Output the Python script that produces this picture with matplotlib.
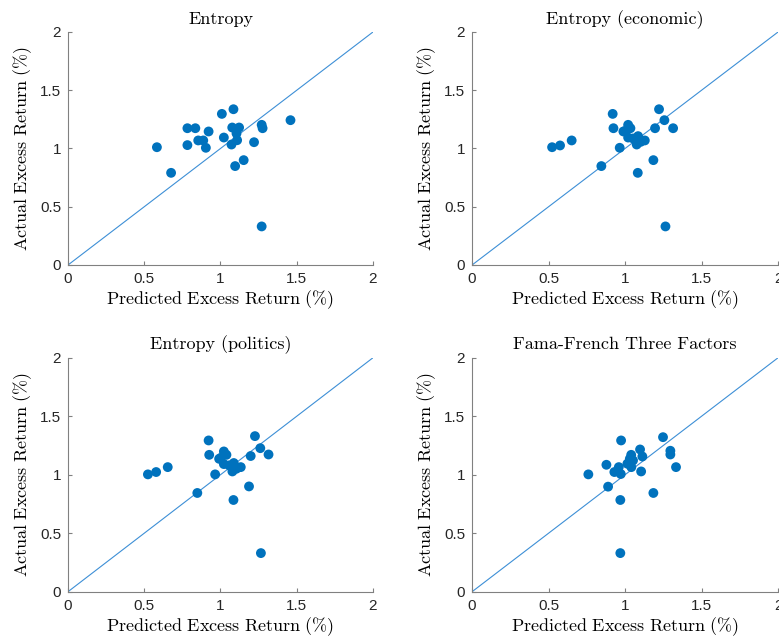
import matplotlib
matplotlib.use('Agg')
import matplotlib.pyplot as plt
import numpy as np

plt.rcParams['mathtext.fontset'] = 'cm'
plt.rcParams['font.family'] = ['Liberation Sans', 'DejaVu Sans']

titles = ['Entropy', 'Entropy (economic)', 'Entropy (politics)', 'Fama-French Three Factors']

# predicted / actual excess returns (%) for each panel
pred_entropy = [0.583, 0.676, 0.783, 0.835, 0.783, 0.854, 0.887, 0.904, 0.922, 1.009, 1.022,
                1.085, 1.077, 1.122, 1.072, 1.109, 1.105, 1.096, 1.152, 1.220, 1.270, 1.276,
                1.459, 1.270]
act_entropy = [1.011, 0.791, 1.174, 1.174, 1.029, 1.069, 1.069, 1.006, 1.146, 1.297, 1.094,
               1.337, 1.180, 1.180, 1.034, 1.071, 1.129, 0.849, 0.900, 1.054, 1.203, 1.174,
               1.243, 0.331]

pred_econ = [0.523, 0.575, 0.651, 0.845, 0.919, 0.924, 0.965, 0.989, 1.020, 1.035, 1.020,
             1.052, 1.085, 1.076, 1.102, 1.129, 1.083, 1.185, 1.196, 1.222, 1.257, 1.314,
             1.264, 1.000]
act_econ = [1.011, 1.026, 1.069, 0.849, 1.297, 1.174, 1.006, 1.146, 1.203, 1.174, 1.094,
            1.086, 1.106, 1.034, 1.057, 1.069, 0.791, 0.900, 1.174, 1.337, 1.243, 1.174,
            0.331, 1.150]

pred_pol = [0.524, 0.578, 0.654, 0.848, 0.922, 0.926, 0.965, 0.991, 1.022, 1.039, 1.022,
            1.057, 1.087, 1.078, 1.104, 1.133, 1.085, 1.187, 1.198, 1.226, 1.261, 1.315,
            1.265, 1.003]
act_pol = [1.003, 1.023, 1.065, 0.844, 1.293, 1.170, 1.003, 1.136, 1.199, 1.170, 1.091,
           1.080, 1.100, 1.028, 1.051, 1.065, 0.784, 0.900, 1.160, 1.330, 1.227, 1.173,
           0.330, 1.145]

pred_ff = [0.760, 0.878, 0.889, 0.930, 0.959, 0.972, 0.974, 0.969, 0.969, 1.015, 1.031,
           1.041, 1.052, 1.098, 1.113, 1.105, 1.185, 1.248, 1.296, 1.296, 1.333, 1.040]
act_ff = [1.003, 1.085, 0.898, 1.023, 1.065, 1.006, 1.293, 0.784, 0.330, 1.094, 1.136,
          1.065, 1.122, 1.216, 1.156, 1.028, 0.844, 1.321, 1.205, 1.173, 1.065, 1.170]

preds = [pred_entropy, pred_econ, pred_pol, pred_ff]
acts = [act_entropy, act_econ, act_pol, act_ff]

diag = [0, 2]
ticks = [0, 0.5, 1, 1.5, 2]
tick_labels = ['0', '0.5', '1', '1.5', '2']

fig = plt.figure(figsize=(7.79, 6.41), dpi=100)
positions = [[0.0873, 0.5866, 0.3915, 0.3635],
             [0.6060, 0.5866, 0.3928, 0.3635],
             [0.0873, 0.0769, 0.3915, 0.3650],
             [0.6060, 0.0769, 0.3928, 0.3650]]

for i in range(4):
    ax = fig.add_axes(positions[i])
    ax.plot(diag, diag, color='#3d8fd6', linewidth=0.8, zorder=1)
    ax.scatter(preds[i], acts[i], s=50, color='#0072BD', edgecolors='none', zorder=2)
    ax.set_xlim(0, 2)
    ax.set_ylim(0, 2)
    ax.set_xticks(ticks)
    ax.set_xticklabels(tick_labels)
    ax.set_yticks(ticks)
    ax.set_yticklabels(tick_labels)
    ax.spines['top'].set_visible(False)
    ax.spines['right'].set_visible(False)
    ax.spines['left'].set_color('#808080')
    ax.spines['bottom'].set_color('#808080')
    ax.tick_params(direction='in', length=3, colors='#808080', labelcolor='#262626',
                   labelsize=11, pad=5)
    ax.set_title(titles[i], fontfamily='cmr10', fontsize=13, pad=6)
    ax.set_xlabel(r'$\mathrm{Predicted\ Excess\ Return\ (\%)}$', fontsize=13, labelpad=2)
    ax.set_ylabel(r'$\mathrm{Actual\ Excess\ Return\ (\%)}$', fontsize=13, labelpad=4)
    ax.patch.set_alpha(0)

plt.savefig('out.png', dpi=100)
